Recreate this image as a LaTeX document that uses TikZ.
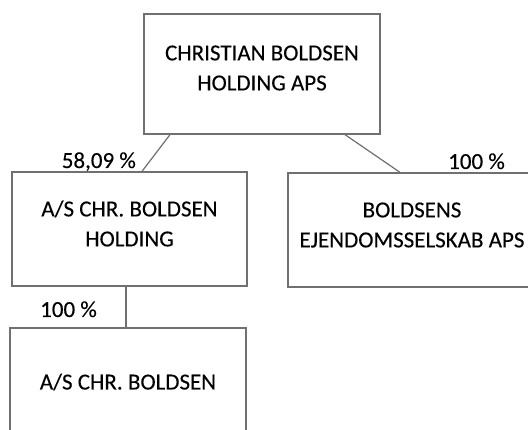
\documentclass[tikz,border=0pt]{standalone}
\usepackage{fontspec}
\setmainfont[FakeBold=0.15]{Carlito}
\definecolor{edge}{RGB}{112,112,112}
\begin{document}
\begin{tikzpicture}[x=1pt,y=-1pt,
  box/.style={draw=edge, line width=1.3pt, rectangle, inner sep=0pt},
  txt/.style={align=center, font=\fontsize{23}{30}\selectfont, inner sep=0pt},
  pct/.style={font=\fontsize{23}{26}\selectfont, inner sep=0pt},
  conn/.style={draw=edge, line width=1.2pt}]
\useasboundingbox (0,0) rectangle (528,430);
\clip (0,0) rectangle (528,430);
\fill[white] (0,0) rectangle (528,430);
% boxes
\node[box, minimum width=236pt, minimum height=120pt] (top) at (262,74) {};
\node[box, minimum width=235pt, minimum height=114pt] (left) at (129.5,229) {};
\node[box, minimum width=264pt, minimum height=114pt] (right) at (420,230) {};
\node[box, minimum width=236pt, minimum height=120pt] (bottom) at (128,388) {};
% texts
\node[txt] (topT) at ([yshift=6pt]top.center) {CHRISTIAN BOLDSEN\\HOLDING APS};
\node[txt] (leftT) at ([yshift=5.5pt]left.center) {A/S CHR. BOLDSEN\\HOLDING};
\node[txt] (rightT) at ([xshift=-8pt,yshift=5pt]right.center) {BOLDSENS\\EJENDOMSSELSKAB APS};
\node[txt] (bottomT) at ([yshift=6pt]bottom.center) {A/S CHR. BOLDSEN};
% connectors
\draw[conn] ([xshift=-92pt]top.south) -- ([xshift=12.5pt]left.north);
\draw[conn] ([xshift=83pt]top.south) -- ([xshift=-20pt]right.north);
\draw[conn] ([xshift=-3.5pt]left.south) -- ([xshift=-3.5pt]left.south |- bottom.north);
% percentages
\node[pct, anchor=base east] (p1) at (136,168) {58,09 \%};
\node[pct, anchor=base west] (p2) at (448,169) {100 \%};
\node[pct, anchor=base west] (p3) at (40,317) {100 \%};
\end{tikzpicture}
\end{document}
